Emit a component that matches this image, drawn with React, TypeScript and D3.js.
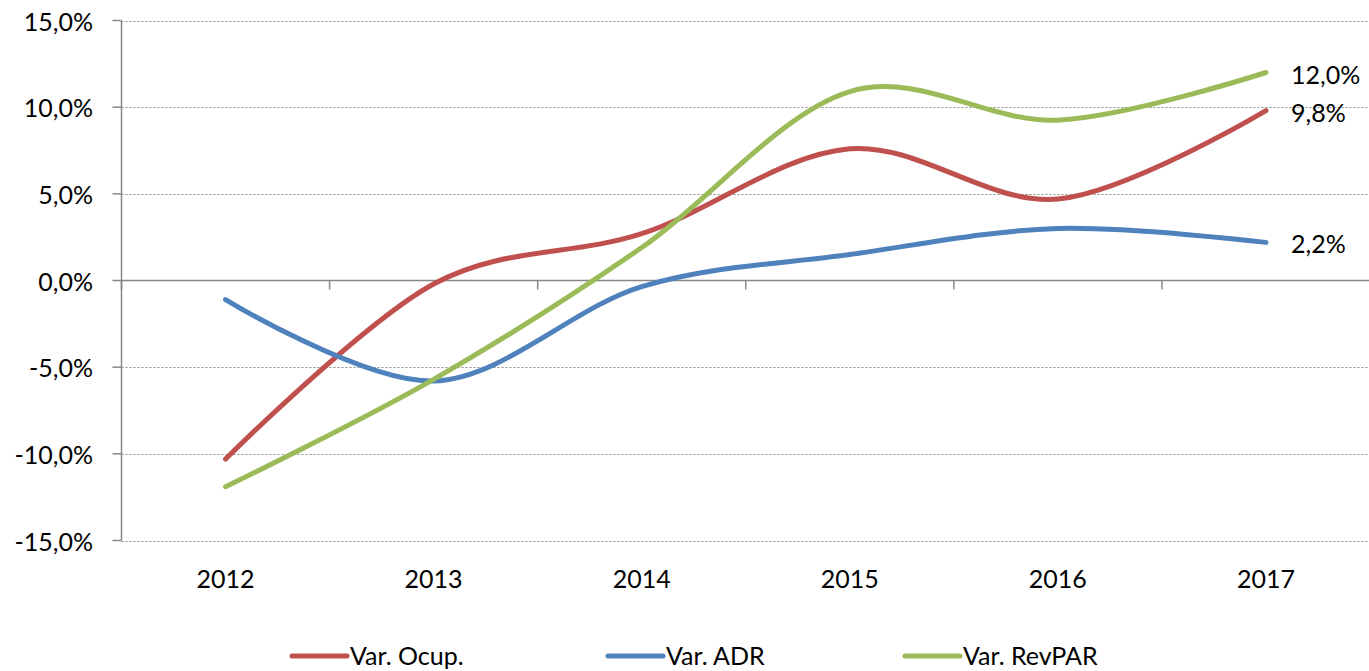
import React from "react";
import * as d3 from "d3";

const years = ["2012", "2013", "2014", "2015", "2016", "2017"];
const ocup = [-10.3, -0.2, 2.7, 7.6, 4.7, 9.8];
const adr = [-1.1, -5.8, -0.35, 1.5, 3.0, 2.2];
const revpar = [-11.9, -5.7, 1.9, 10.9, 9.25, 12.0];
const yTicks = [15, 10, 5, 0, -5, -10, -15];
const seriesNames = ["Var. Ocup.", "Var. ADR", "Var. RevPAR"];
const colors = ["#C0504D", "#4F81BD", "#9BBB59"];

const W = 1369;
const H = 671;
const left = 121.5;
const right = 1370;
const top = 20.5;
const bottom = 540.5;
const font = "Lato, 'Open Sans', sans-serif";
const fs = 25;

const fmt = (v: number) => v.toFixed(1).replace(".", ",") + "%";

export default function App() {
  const x = d3.scaleBand<string>().domain(years).range([left, right]).padding(0);
  const y = d3.scaleLinear().domain([-15, 15]).range([bottom, top]);
  const cx = (yr: string) => (x(yr) as number) + x.bandwidth() / 2;
  const line = d3
    .line<number>()
    .x((_, i) => cx(years[i]))
    .y((d) => y(d))
    .curve(d3.curveCardinal.tension(0));
  const series = [ocup, adr, revpar];
  const boundaries = years.map((yr) => x(yr) as number).concat([right]);
  const legendX = [292, 608, 905];

  return (
    <svg
      width={W}
      height={H}
      style={{ position: "absolute", left: 0, top: 0, background: "#fff" }}
      fontFamily={font}
    >
      {yTicks
        .filter((t) => t !== 0)
        .map((t) => (
          <line
            key={"g" + t}
            x1={left}
            x2={right}
            y1={Math.round(y(t)) + 0.5}
            y2={Math.round(y(t)) + 0.5}
            stroke="#8a8a8a"
            strokeWidth={1}
            strokeDasharray="2,2"
          />
        ))}
      <line x1={left} x2={left} y1={top} y2={bottom} stroke="#868686" strokeWidth={1.5} />
      {yTicks.map((t) => (
        <g key={"t" + t}>
          <line x1={left - 9} x2={left} y1={y(t)} y2={y(t)} stroke="#868686" strokeWidth={1.5} />
          <text
            x={93}
            y={y(t)}
            textAnchor="end"
            dominantBaseline="central"
            fontSize={fs}
            fill="#000"
          >
            {fmt(t)}
          </text>
        </g>
      ))}
      <line x1={left} x2={right} y1={y(0)} y2={y(0)} stroke="#868686" strokeWidth={1.5} />
      {boundaries.map((b, i) => (
        <line key={"xt" + i} x1={b} x2={b} y1={y(0)} y2={y(0) + 9} stroke="#868686" strokeWidth={1.5} />
      ))}
      {years.map((yr) => (
        <text key={yr} x={cx(yr)} y={578} textAnchor="middle" dominantBaseline="central" fontSize={fs} fill="#000">
          {yr}
        </text>
      ))}
      {series.map((s, i) => (
        <path
          key={"s" + i}
          d={line(s) || ""}
          fill="none"
          stroke={colors[i]}
          strokeWidth={5}
          strokeLinecap="round"
          strokeLinejoin="round"
        />
      ))}
      {series.map((s, i) => (
        <text
          key={"l" + i}
          x={cx(years[years.length - 1]) + 25}
          y={y(s[s.length - 1]) + 1}
          dominantBaseline="central"
          fontSize={fs}
          fill="#000"
        >
          {fmt(s[s.length - 1])}
        </text>
      ))}
      {seriesNames.map((n, i) => (
        <g key={"lg" + i}>
          <line
            x1={legendX[i]}
            x2={legendX[i] + 55}
            y1={656}
            y2={656}
            stroke={colors[i]}
            strokeWidth={5}
            strokeLinecap="round"
          />
          <text x={legendX[i] + 58} y={655} dominantBaseline="central" fontSize={fs} fill="#000">
            {n}
          </text>
        </g>
      ))}
    </svg>
  );
}
